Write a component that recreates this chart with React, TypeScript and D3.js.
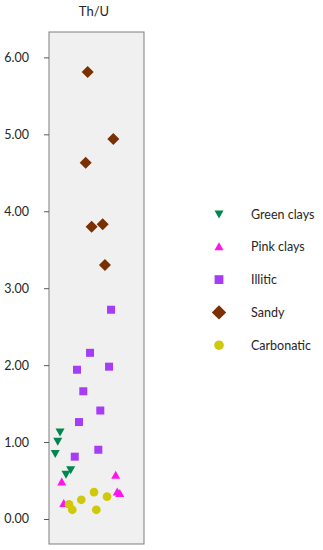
import { useEffect, useRef } from "react";
import * as d3 from "d3";

// Th/U values per group, with horizontal jitter position (0-100 across the box)
const GREEN_Y = [1.13, 1.01, 0.85, 0.64, 0.58];
const GREEN_X = [11.6, 9.2, 6.6, 22.8, 17.9];
const PINK_Y = [0.57, 0.48, 0.35, 0.33, 0.2];
const PINK_X = [70.2, 13.4, 71.8, 74.5, 15.5];
const ILLITIC_Y = [2.72, 2.16, 1.98, 1.94, 1.66, 1.41, 1.26, 0.9, 0.81];
const ILLITIC_X = [65.3, 43.2, 63.2, 29.5, 36.1, 54, 31.6, 51.9, 27.1];
const SANDY_Y = [5.81, 4.94, 4.63, 3.83, 3.8, 3.3];
const SANDY_X = [40.7, 67.7, 38.6, 56.5, 44.9, 58.9];
const CARB_Y = [0.35, 0.29, 0.25, 0.19, 0.12, 0.12];
const CARB_X = [47.4, 61.1, 34, 21.1, 24.5, 49.8];

const Y_TICKS = [0, 1, 2, 3, 4, 5, 6];
const TITLE = "Th/U";

const FONT = "Lato, 'Open Sans', sans-serif";

const SERIES = [
  { name: "Green clays", xs: GREEN_X, ys: GREEN_Y, color: "#00864f", shape: "down" },
  { name: "Pink clays", xs: PINK_X, ys: PINK_Y, color: "#ff14f0", shape: "up" },
  { name: "Illitic", xs: ILLITIC_X, ys: ILLITIC_Y, color: "#a63cf5", shape: "square" },
  { name: "Sandy", xs: SANDY_X, ys: SANDY_Y, color: "#7a3000", shape: "diamond" },
  { name: "Carbonatic", xs: CARB_X, ys: CARB_Y, color: "#cfc90c", shape: "circle" },
];

function symbolPath(shape: string, k = 1) {
  if (shape === "circle") return d3.symbol(d3.symbolCircle, 60 * k * k)();
  if (shape === "square") return d3.symbol(d3.symbolSquare, 64 * k * k)();
  if (shape === "diamond") return `M0,${-6 * k}L${6 * k},0L0,${6 * k}L${-6 * k},0Z`;
  if (shape === "up") return "M0,-4.5L4.5,3.5L-4.5,3.5Z";
  return "M0,4.5L4.5,-3.5L-4.5,-3.5Z";
}

export default function App() {
  const svgRef = useRef<SVGSVGElement>(null);

  useEffect(() => {
    const svg = d3.select(svgRef.current);
    svg.selectAll("*").remove();

    const box = { left: 49, right: 144, top: 32, bottom: 544 };

    const x = d3.scaleLinear().domain([0, 100]).range([box.left, box.right]);
    const y = d3.scaleLinear().domain([-0.325, 6.33]).range([box.bottom, box.top]);

    svg.append("rect")
      .attr("x", box.left).attr("y", box.top)
      .attr("width", box.right - box.left).attr("height", box.bottom - box.top)
      .attr("fill", "#f0f0f0")
      .attr("stroke", "#7f7f7f")
      .attr("stroke-width", 1);

    // Y axis
    svg.append("g")
      .attr("transform", `translate(${box.left},0)`)
      .call(d3.axisLeft(y).tickValues(Y_TICKS).tickSize(5).tickPadding(15).tickFormat(d3.format(".2f")))
      .call(ax => {
        ax.select(".domain").remove();
        ax.selectAll("line").attr("stroke", "#595959");
        ax.selectAll("text")
          .attr("fill", "#262626")
          .style("font-size", "12.5px")
          .style("font-family", FONT);
      });

    svg.append("text")
      .attr("x", 94).attr("y", 16)
      .attr("text-anchor", "middle")
      .attr("fill", "#262626")
      .style("font-size", "13px")
      .style("font-family", FONT)
      .text(TITLE);

    // points
    SERIES.forEach(s => {
      svg.append("g")
        .selectAll("path")
        .data(s.ys.map((v, i) => ({ v, xv: s.xs[i] })))
        .enter()
        .append("path")
        .attr("transform", d => `translate(${x(d.xv)},${y(d.v)})`)
        .attr("d", symbolPath(s.shape))
        .attr("fill", s.color);
    });

    // legend
    const lg = svg.append("g").attr("transform", "translate(219,214)");
    SERIES.forEach((s, i) => {
      const row = lg.append("g").attr("transform", `translate(0,${i * 32.8})`);
      row.append("path").attr("d", symbolPath(s.shape, s.shape === "diamond" ? 1.2 : 1.1)).attr("fill", s.color);
      row.append("text")
        .attr("x", 32).attr("y", 4.5)
        .attr("fill", "#262626")
        .style("font-size", "12.5px")
        .style("font-family", FONT)
        .text(s.name);
    });
  }, []);

  return (
    <svg
      ref={svgRef}
      width={323}
      height={550}
      style={{ position: "absolute", left: 0, top: 0, background: "#fff" }}
    />
  );
}
